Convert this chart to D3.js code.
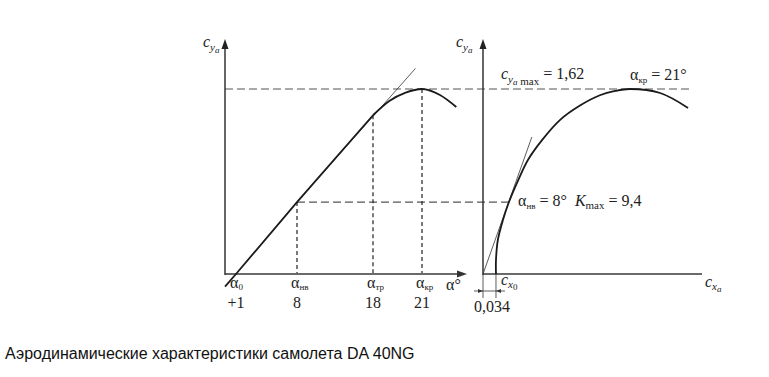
<!DOCTYPE html>
<html>
<head>
<meta charset="utf-8">
<script src="https://cdn.jsdelivr.net/npm/d3@7"></script>
<style>
body { margin: 0; background: #fff; }
svg { display: block; }
.serif { font-family: "Liberation Serif", "DejaVu Serif", serif; fill: #222; }
.it { font-style: italic; }
.title { font-family: "Liberation Sans", Arial, sans-serif; font-size: 16px; fill: #111; }
.curve { fill: none; stroke: #1a1a1a; stroke-width: 1.8; }
.tangent { fill: none; stroke: #333; stroke-width: 0.8; }
.dash-h { stroke: #555; stroke-width: 1.2; stroke-dasharray: 8,4; }
.dash-v { stroke: #222; stroke-width: 1.2; stroke-dasharray: 4,3; }
.axis-y { stroke: #333; stroke-width: 1.5; }
.axis-x { stroke: #6a6a6a; stroke-width: 2; }
</style>
</head>
<body>
<div class="svg-container"></div>
<script>
// angle of attack ticks (deg) and their subscripts
var alphaTicks = [1, 8, 18, 21];
var alphaSubs = ['0', 'нв', 'тр', 'кр'];
var alphaTickLabels = ['+1', '8', '18', '21'];

// cya at each marked angle (nv, tr, kr)
var markAlpha = [8, 18, 21];
var markCy = [0.63, 1.39, 1.62];

// cya(alpha): straight part, then the rounded top
var liftLinAlpha = [-0.26, 1, 8, 18];
var liftLinCy = [-0.11, 0, 0.63, 1.39];
var liftTopAlpha = [18, 19, 20, 21, 22.1, 23.1];
var liftTopCy = [1.39, 1.515, 1.588, 1.62, 1.567, 1.462];

// polar cya(cxa)
var polarCx = [0.034, 0.034, 0.039, 0.052, 0.068, 0.092, 0.118, 0.154, 0.202, 0.254, 0.306, 0.346, 0.385, 0.464, 0.537];
var polarCy = [0, 0.123, 0.30, 0.47, 0.63, 0.82, 1.00, 1.17, 1.35, 1.475, 1.565, 1.603, 1.62, 1.585, 1.454];

// tangent lines
var tanLiftAlpha = [8, 20.6];
var tanLiftCy = [0.63, 1.80];
var tanPolarCx = [0, 0.128];
var tanPolarCy = [0, 1.20];

var cyMax = 1.62;
var cx0 = 0.034;
var cxNv = 0.068;
var kMax = 9.4;
var cxDashEnd = 0.55;

var width = 769, height = 377;

var svg = d3.select('.svg-container')
	.append('svg')
	.attr('width', width)
	.attr('height', height);

// schematic (non-uniform) alpha axis
var xL = d3.scaleLinear()
	.domain(alphaTicks)
	.range([236, 297, 373, 422]);

var yS = d3.scaleLinear()
	.domain([0, cyMax])
	.range([274, 89]);

var xR = d3.scaleLinear()
	.domain([0, 0.385])
	.range([483, 630]);

var leftAxisX = 225, rightAxisX = xR(0), baseY = yS(0);

var liftLine = d3.line()
	.x(function(d) { return xL(d[0]); })
	.y(function(d) { return yS(d[1]); });

var polarLine = d3.line()
	.x(function(d) { return xR(d[0]); })
	.y(function(d) { return yS(d[1]); });

// dashed guides
svg.append('line')
	.attr('class', 'dash-h')
	.attr('x1', leftAxisX).attr('x2', xR(cxDashEnd))
	.attr('y1', yS(cyMax)).attr('y2', yS(cyMax));

svg.append('line')
	.attr('class', 'dash-h')
	.attr('x1', xL(8)).attr('x2', xR(cxNv))
	.attr('y1', yS(markCy[0])).attr('y2', yS(markCy[0]));

svg.selectAll('.dash-v')
	.data(markAlpha)
	.enter()
	.append('line')
	.attr('class', 'dash-v')
	.attr('x1', function(d) { return xL(d); })
	.attr('x2', function(d) { return xL(d); })
	.attr('y1', function(d, i) { return yS(markCy[i]); })
	.attr('y2', baseY);

// axes
function arrowUp(x, y) {
	svg.append('path')
		.attr('d', 'M' + x + ',' + y + 'l-3.5,10l7,0z')
		.attr('fill', '#222');
}
function arrowRight(x, y) {
	svg.append('path')
		.attr('d', 'M' + x + ',' + y + 'l-10,-3.5l0,7z')
		.attr('fill', '#333');
}

svg.append('line').attr('class', 'axis-x')
	.attr('x1', leftAxisX).attr('x2', 460).attr('y1', baseY).attr('y2', baseY);
arrowRight(467, baseY);
svg.append('line').attr('class', 'axis-y')
	.attr('x1', leftAxisX).attr('x2', leftAxisX).attr('y1', baseY + 1).attr('y2', 46);
arrowUp(leftAxisX, 39);

svg.append('line').attr('class', 'axis-x')
	.attr('x1', rightAxisX).attr('x2', 702).attr('y1', baseY).attr('y2', baseY);
svg.append('line').attr('class', 'axis-y')
	.attr('x1', rightAxisX).attr('x2', rightAxisX).attr('y1', baseY + 1).attr('y2', 46);
arrowUp(rightAxisX, 39);

// curves
svg.append('path')
	.datum(d3.zip(tanLiftAlpha, tanLiftCy))
	.attr('class', 'tangent')
	.attr('d', liftLine.curve(d3.curveLinear));

svg.append('path')
	.datum(d3.zip(liftLinAlpha, liftLinCy))
	.attr('class', 'curve')
	.attr('d', liftLine.curve(d3.curveLinear));

svg.append('path')
	.datum(d3.zip(liftTopAlpha, liftTopCy))
	.attr('class', 'curve')
	.attr('d', liftLine.curve(d3.curveMonotoneX));

svg.append('path')
	.datum(d3.zip(tanPolarCx, tanPolarCy))
	.attr('class', 'tangent')
	.attr('d', polarLine.curve(d3.curveLinear));

svg.append('path')
	.datum(d3.zip(polarCx, polarCy))
	.attr('class', 'curve')
	.attr('d', polarLine.curve(d3.curveCatmullRom.alpha(0.5)));

// cx0 dimension
[0, cx0].forEach(function(v) {
	svg.append('line')
		.attr('x1', xR(v)).attr('x2', xR(v))
		.attr('y1', baseY).attr('y2', baseY + 24)
		.attr('stroke', '#333').attr('stroke-width', 0.8);
});
svg.append('line')
	.attr('x1', xR(0) - 9).attr('x2', xR(cx0) + 9)
	.attr('y1', baseY + 17).attr('y2', baseY + 17)
	.attr('stroke', '#333').attr('stroke-width', 0.8);
svg.append('path')
	.attr('d', 'M' + xR(0) + ',' + (baseY + 17) + 'l-5,-2l0,4z' +
		'M' + xR(cx0) + ',' + (baseY + 17) + 'l5,-2l0,4z')
	.attr('fill', '#333');

// labels
function cya(x, y) {
	var t = svg.append('text').attr('class', 'serif').attr('x', x).attr('y', y).style('font-size', '16px');
	t.append('tspan').attr('class', 'it').text('c');
	t.append('tspan').attr('class', 'it').attr('dy', 4).style('font-size', '11px').text('y');
	t.append('tspan').attr('class', 'it').attr('dy', 2).style('font-size', '9px').text('a');
	return t;
}
cya(203, 47);
cya(456, 47);

var ticks = svg.selectAll('.tick-lab')
	.data(alphaTicks)
	.enter()
	.append('g')
	.attr('class', 'tick-lab');

ticks.append('text')
	.attr('class', 'serif')
	.attr('x', function(d) { return xL(d) - 6; })
	.attr('y', baseY + 14)
	.style('font-size', '16px')
	.text('α')
	.append('tspan')
	.attr('dy', 2)
	.style('font-size', '9px')
	.text(function(d, i) { return alphaSubs[i]; });

ticks.append('text')
	.attr('class', 'serif')
	.attr('x', function(d) { return xL(d); })
	.attr('y', baseY + 34)
	.attr('text-anchor', 'middle')
	.style('font-size', '16px')
	.text(function(d, i) { return alphaTickLabels[i]; });

svg.append('text').attr('class', 'serif')
	.attr('x', 446).attr('y', baseY + 16)
	.style('font-size', '16px').text('α°');

// polar annotations
var t1 = cya(501, 79);
t1.append('tspan').attr('dy', 0).style('font-size', '11px').text(' max');
t1.append('tspan').attr('dy', -6).style('font-size', '16px').text(' = ' + d3.format('.2f')(cyMax).replace('.', ','));

var t2 = svg.append('text').attr('class', 'serif').attr('x', 630).attr('y', 80).style('font-size', '16px');
t2.append('tspan').text('α');
t2.append('tspan').attr('dy', 3).style('font-size', '9px').text('кр');
t2.append('tspan').attr('dy', -3).text(' = ' + alphaTicks[3] + '°');

var t3 = svg.append('text').attr('class', 'serif').attr('x', 518).attr('y', 206).style('font-size', '16px');
t3.append('tspan').text('α');
t3.append('tspan').attr('dy', 3).style('font-size', '9px').text('нв');
t3.append('tspan').attr('dy', -3).text(' = ' + alphaTicks[1] + '°');
t3.append('tspan').attr('class', 'it').attr('dx', 8).text('K');
t3.append('tspan').attr('dy', 3).style('font-size', '11px').text('max');
t3.append('tspan').attr('dy', -3).text(' =  ' + String(kMax).replace('.', ','));

var t4 = svg.append('text').attr('class', 'serif').attr('x', 501).attr('y', 285).style('font-size', '16px');
t4.append('tspan').attr('class', 'it').text('c');
t4.append('tspan').attr('class', 'it').attr('dy', 3).style('font-size', '11px').text('x');
t4.append('tspan').attr('dy', 2).style('font-size', '9px').text('0');

svg.append('text').attr('class', 'serif')
	.attr('x', 474).attr('y', 312)
	.style('font-size', '16px').text(d3.format('.3f')(cx0).replace('.', ','));

var t5 = svg.append('text').attr('class', 'serif').attr('x', 705).attr('y', 287).style('font-size', '16px');
t5.append('tspan').attr('class', 'it').text('c');
t5.append('tspan').attr('class', 'it').attr('dy', 3).style('font-size', '11px').text('x');
t5.append('tspan').attr('class', 'it').attr('dy', 2).style('font-size', '9px').text('a');

svg.append('text')
	.attr('class', 'title')
	.attr('x', 5).attr('y', 359)
	.text('Аэродинамические характеристики самолета DA 40NG');
</script>
</body>
</html>
